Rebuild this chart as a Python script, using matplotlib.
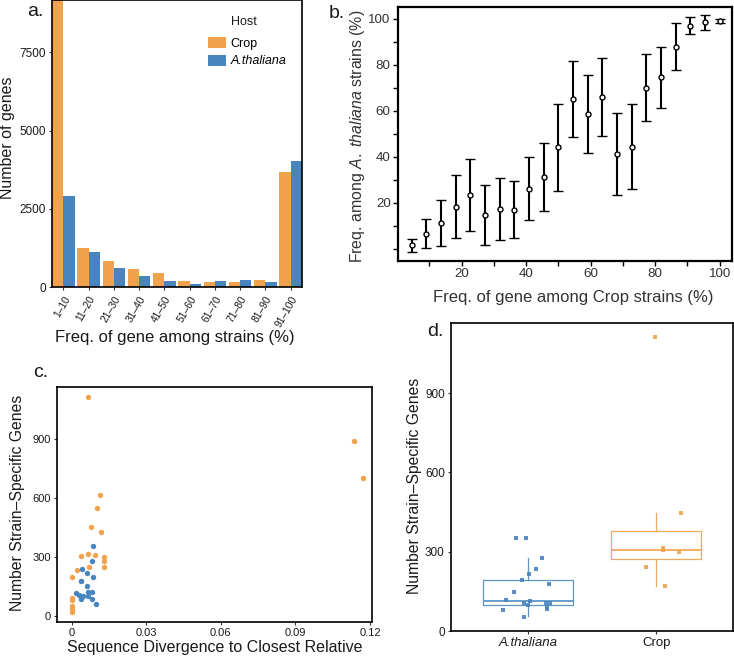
import matplotlib
matplotlib.use("Agg")
import matplotlib.pyplot as plt
import numpy as np

plt.rcParams['font.family'] = ['Liberation Sans', 'DejaVu Sans']
plt.rcParams['mathtext.fontset'] = 'custom'
plt.rcParams['mathtext.rm'] = 'Liberation Sans'
plt.rcParams['mathtext.it'] = 'Liberation Sans:italic'

ORANGE = '#F1A24C'
BLUE = '#4884BD'
TXT = '#1a1a1a'

# ---------------- Panel a data ----------------
freq_bins = ['1–10', '11–20', '21–30', '31–40', '41–50', '51–60',
             '61–70', '71–80', '81–90', '91–100']
crop_counts = [9600, 1255, 819, 574, 457, 202, 170, 170, 213, 3670]
ath_counts = [2894, 1117, 596, 362, 202, 96, 181, 223, 170, 4011]

# ---------------- Panel b data ----------------
crop_freq = [4.5, 9.1, 13.6, 18.2, 22.7, 27.3, 31.8, 36.4, 40.9, 45.5, 50.0,
             54.5, 59.1, 63.6, 68.2, 72.7, 77.3, 81.8, 86.4, 90.9, 95.5, 100.0]
ath_mean = [1.45, 6.3, 11.2, 18.0, 23.1, 14.7, 17.2, 17.0, 26.1, 31.1, 44.0,
            65.1, 58.7, 66.1, 41.0, 44.4, 69.8, 74.5, 87.9, 97.0, 98.4, 99.1]
ath_upper = [4.3, 12.8, 21.2, 31.8, 38.8, 27.6, 30.8, 29.6, 39.8, 45.9, 62.8,
             81.6, 75.5, 83.0, 59.1, 62.8, 84.5, 87.5, 98.1, 100.6, 101.7, 100.0]
ath_lower = [-1.45, 0.15, 1.0, 4.5, 7.5, 1.6, 3.6, 4.5, 12.6, 16.4, 25.1,
             48.5, 41.8, 49.1, 23.1, 25.8, 55.3, 61.2, 77.5, 93.5, 95.2, 98.2]

# ---------------- Panel c data ----------------
crop_div = [0.0064, 0.1135, 0.1170, 0.0113, 0.0101, 0.0078, 0.0118, 0.0064,
            0.0036, 0.0094, 0.0131, 0.0131, 0.0131, 0.0070, 0.0021, 0.0003,
            0.0036, 0.0000, 0.0003, 0.0000, 0.0000, 0.0000]
crop_specific = [1115, 890, 703, 615, 547, 451, 429, 317, 305, 308, 302, 280,
                 248, 247, 234, 200, 178, 93, 81, 51, 34, 22]
ath_div = [0.0087, 0.0080, 0.0040, 0.0063, 0.0087, 0.0038, 0.0063, 0.0019,
           0.0029, 0.0066, 0.0080, 0.0067, 0.0038, 0.0083, 0.0099, 0.0045]
ath_specific = [356, 280, 239, 217, 200, 180, 153, 115, 107, 124, 124, 102,
                85, 86, 61, 100]

# ---------------- Panel d data ----------------
hosts = ['A.thaliana', 'Crop']
ath_box = dict(q1=97, med=112, q3=192, whislo=57, whishi=276)
crop_box = dict(q1=271, med=305, q3=379, whislo=170, whishi=445)
ath_pts = [350, 350, 276, 234, 214, 194, 179, 147, 117, 112, 107, 97, 107,
           105, 92, 82, 79, 54]
ath_jit = [-0.095, -0.012, 0.108, 0.061, 0.009, -0.045, 0.168, -0.111,
           -0.168, 0.020, -0.027, 0.001, 0.142, 0.176, 0.150, 0.150, -0.191,
           -0.027]
crop_pts = [1113, 445, 315, 307, 299, 241, 169]
crop_jit = [-0.009, 0.191, 0.053, 0.053, 0.176, -0.077, 0.072]

W, H = 734, 658
fig = plt.figure(figsize=(W / 100, H / 100), dpi=100)


def box(l, t, r, b):
    return [l / W, 1 - b / H, (r - l) / W, (b - t) / H]


def style_gg(ax, lw=1.2):
    for s in ax.spines.values():
        s.set_linewidth(lw)
        s.set_color('black')
    ax.tick_params(direction='out', length=2.5, width=0.8, colors='#333333',
                   labelcolor=TXT, labelsize=8.5, pad=2)


# ---------------- Panel a ----------------
axa = fig.add_axes(box(52, 0, 302, 287))
xa = np.arange(1, len(freq_bins) + 1)
bw = 0.45
axa.bar(xa - bw / 2, crop_counts, width=bw, color=ORANGE, label='Crop')
axa.bar(xa + bw / 2, ath_counts, width=bw, color=BLUE, label='A.thaliana')
axa.set_xlim(0.55, 10.45)
axa.set_ylim(0, 9170)
axa.set_yticks([0, 2500, 5000, 7500])
axa.set_xticks(xa)
axa.set_xticklabels(freq_bins, rotation=60, ha='right', va='top',
                    rotation_mode='anchor')
style_gg(axa)
axa.tick_params(axis='x', labelsize=7.4, pad=2.5)
axa.set_ylabel('Number of genes', fontsize=11.5, va='center', color=TXT)
axa.yaxis.set_label_coords(-0.18, 0.519)
axa.set_xlabel('Freq. of gene among strains (%)', fontsize=12, va='center',
               color=TXT)
axa.xaxis.set_label_coords(0.492, -0.176)
leg = axa.legend(loc='upper left', bbox_to_anchor=(0.623, 0.872),
                 frameon=False, fontsize=9, handlelength=1.45,
                 handleheight=1.0, handletextpad=0.35, labelspacing=0.4,
                 borderpad=0, borderaxespad=0)
leg.get_texts()[1].set_style('italic')
axa.text(0.716, 0.923, 'Host', transform=axa.transAxes, fontsize=9,
         va='center', ha='left', color=TXT)

# ---------------- Panel b ----------------
axb = fig.add_axes(box(398, 7, 732, 261))
yerr = [np.array(ath_mean) - np.array(ath_lower),
        np.array(ath_upper) - np.array(ath_mean)]
axb.errorbar(crop_freq, ath_mean, yerr=yerr, fmt='o', mfc='white',
             mec='black', mew=1.0, ms=3.6, ecolor='black', elinewidth=1.5,
             capsize=3.3, capthick=1.5, zorder=3)
axb.set_xlim(0.3, 103.8)
axb.set_ylim(-5.4, 105.1)
bx_ticks = list(range(10, 101, 10))
by_ticks = list(range(0, 101, 10))
axb.set_xticks(bx_ticks)
axb.set_xticklabels([str(v) if v % 20 == 0 else '' for v in bx_ticks])
axb.set_yticks(by_ticks)
axb.set_yticklabels([str(v) if (v % 20 == 0 and v > 0) else '' for v in by_ticks])
for s in axb.spines.values():
    s.set_linewidth(1.6)
    s.set_color('black')
narrow = ['Liberation Sans Narrow', 'Liberation Sans', 'DejaVu Sans']
axb.tick_params(direction='out', length=3.5, width=1.0, colors='black',
                labelcolor='#333333', labelsize=9.6, pad=1.8)
for lab in axb.get_xticklabels() + axb.get_yticklabels():
    lab.set_family(narrow)
axb.set_ylabel(r'Freq. among $\mathit{A.\ thaliana}$ strains (%)', fontsize=11.4,
               va='center', color='#333333')
axb.yaxis.set_label_coords(-0.12, 0.49)
axb.set_xlabel('Freq. of gene among Crop strains (%)', fontsize=12,
               va='center', color='#333333')
axb.xaxis.set_label_coords(0.524, -0.142)

# ---------------- Panel c ----------------
axc = fig.add_axes(box(57, 387, 372, 622))
axc.scatter(crop_div, crop_specific, s=15, color=ORANGE, linewidths=0,
            zorder=3)
axc.scatter(ath_div, ath_specific, s=15, color=BLUE, linewidths=0, zorder=3)
axc.set_xlim(-0.0059, 0.1208)
axc.set_ylim(-30, 1164)
axc.set_xticks([0, 0.03, 0.06, 0.09, 0.12])
axc.set_xticklabels(['0', '0.03', '0.06', '0.09', '0.12'])
axc.set_yticks([0, 300, 600, 900])
style_gg(axc)
axc.tick_params(labelsize=8)
axc.set_ylabel('Number Strain–Specific Genes', fontsize=11.3, va='center',
               color=TXT)
axc.yaxis.set_label_coords(-0.124, 0.509)
axc.set_xlabel('Sequence Divergence to Closest Relative', fontsize=11.5,
               va='center', color=TXT)
axc.xaxis.set_label_coords(0.502, -0.11)

# ---------------- Panel d ----------------
axd = fig.add_axes(box(451, 323, 733, 631))
stats = [dict(ath_box, label=hosts[0]), dict(crop_box, label=hosts[1])]
box_cols = ['#5E95C6', '#F2A85C']
for i, (st, col) in enumerate(zip(stats, box_cols)):
    axd.bxp([st], positions=[i + 1], widths=0.7, showfliers=False,
            patch_artist=True, showcaps=False,
            boxprops=dict(facecolor='white', edgecolor=col, linewidth=0.9),
            medianprops=dict(color=col, linewidth=1.3),
            whiskerprops=dict(color=col, linewidth=0.9), zorder=2)
axd.plot(1 + np.array(ath_jit), ath_pts, 's', color=BLUE, ms=2.2, mew=0,
         alpha=0.9, zorder=3)
axd.plot(2 + np.array(crop_jit), crop_pts, 's', color=ORANGE, ms=2.2, mew=0,
         alpha=0.9, zorder=3)
axd.set_xlim(0.4, 2.6)
axd.set_ylim(0, 1165)
axd.set_xticks([1, 2])
axd.set_xticklabels(hosts)
axd.set_yticks([0, 300, 600, 900])
style_gg(axd)
axd.tick_params(axis='y', labelsize=8.5)
axd.tick_params(axis='x', labelsize=9.5)
axd.get_xticklabels()[0].set_style('italic')
axd.set_ylabel('Number Strain–Specific Genes', fontsize=11.3, va='center',
               color=TXT)
axd.yaxis.set_label_coords(-0.128, 0.472)

# ---------------- Panel letters ----------------
for letter, (px, py) in zip(['a.', 'b.', 'c.', 'd.'],
                            [(35, 12), (337, 14), (41, 373), (435, 332)]):
    fig.text(px / W, 1 - py / H, letter, fontsize=14, ha='center',
             va='center', color=TXT)

fig.savefig('out.png', dpi=100)
